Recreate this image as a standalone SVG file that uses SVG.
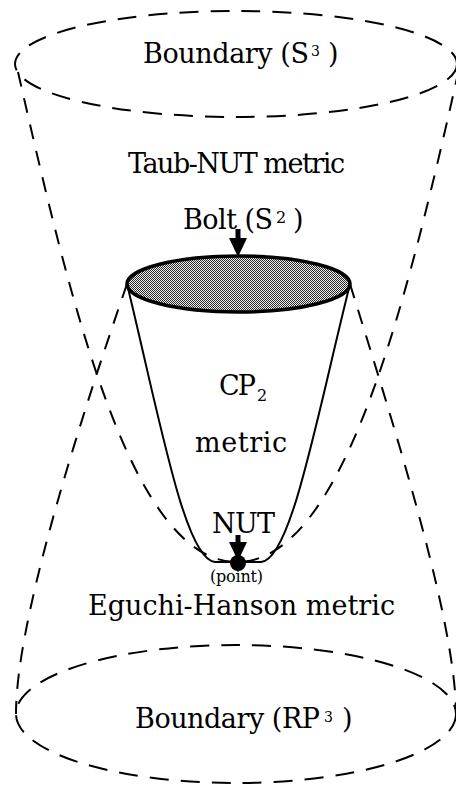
<svg xmlns="http://www.w3.org/2000/svg" width="456" height="789" viewBox="0 0 456 789">
<style>
.lbl{font-family:"DejaVu Serif","Liberation Serif",serif;font-size:27px;fill:#000}
.sm{font-family:"DejaVu Serif","Liberation Serif",serif;font-size:15px;fill:#000}
.dash-e{fill:none;stroke:#000;stroke-width:2;stroke-dasharray:19 12}
.dash-l{fill:none;stroke:#000;stroke-width:2;stroke-dasharray:15 12}
.solid{fill:none;stroke:#000;stroke-width:2}
.stem{stroke:#000;stroke-width:5;fill:none}
</style>
<defs>
<pattern id="checker" width="2" height="2" patternUnits="userSpaceOnUse">
<rect width="2" height="2" fill="#f0f0f0"/>
<rect width="1" height="1" fill="#2a2a2a"/>
<rect x="1" y="1" width="1" height="1" fill="#2a2a2a"/>
</pattern>
<marker id="head" viewBox="0 0 19 18" refX="0" refY="9" markerWidth="19" markerHeight="18" markerUnits="userSpaceOnUse" orient="auto">
<path d="M0,0 L19,9 L0,18 Z" fill="#000"/>
</marker>
</defs>

<g id="top-boundary">
<ellipse class="dash-e" cx="236" cy="64" rx="221" ry="53"/>
<text class="lbl" x="143" y="63" textLength="166">Boundary (S</text>
<text class="sm" x="311" y="56" style="font-size:14px">3</text>
<text class="lbl" x="328" y="63">)</text>
</g>

<g id="taub-nut">
<text class="lbl" x="128" y="173" textLength="217">Taub-NUT metric</text>
</g>

<g id="cones">
<path class="dash-l" d="M18,72 C70,300 130,562 237,562 C344,562 407,300 457,78"/>
<path class="dash-l" d="M127,284 C80,420 16,620 16,714"/>
<path class="dash-l" d="M350,284 C392,420 456,620 456,714"/>
</g>

<g id="cp2">
<path class="solid" d="M127,284 C160,420 185,560 215,562 L261,562 C291,560 316,420 350,284"/>
<text class="lbl" x="219" y="395" textLength="37">CP</text>
<text class="sm" x="257" y="401" style="font-size:16px">2</text>
<text class="lbl" x="195" y="452" textLength="92">metric</text>
</g>

<g id="bolt">
<ellipse cx="238.5" cy="284" rx="111.5" ry="28" fill="url(#checker)" stroke="#000" stroke-width="3.5"/>
<text class="lbl" x="183" y="229" textLength="90">Bolt (S</text>
<text class="sm" x="276" y="223" style="font-size:16px">2</text>
<text class="lbl" x="293" y="229">)</text>
</g>

<g id="nut">
<circle cx="238" cy="563" r="8" fill="#000"/>
<text class="lbl" x="212" y="533" textLength="63">NUT</text>
<text class="sm" x="210" y="582" textLength="53" style="font-size:16px">(point)</text>
</g>

<g id="eguchi-hanson">
<text class="lbl" x="88" y="615" textLength="307">Eguchi-Hanson metric</text>
</g>

<g id="bottom-boundary">
<ellipse class="dash-e" cx="236" cy="714" rx="220" ry="69"/>
<text class="lbl" x="135" y="728" textLength="185">Boundary (RP</text>
<text class="sm" x="324" y="722" style="font-size:14px">3</text>
<text class="lbl" x="342" y="728">)</text>
</g>

<g id="connectors">
<line class="stem" x1="238" y1="229" x2="238" y2="238" marker-end="url(#head)"/>
<line class="stem" x1="238" y1="535" x2="238" y2="542" marker-end="url(#head)"/>
</g>
</svg>
